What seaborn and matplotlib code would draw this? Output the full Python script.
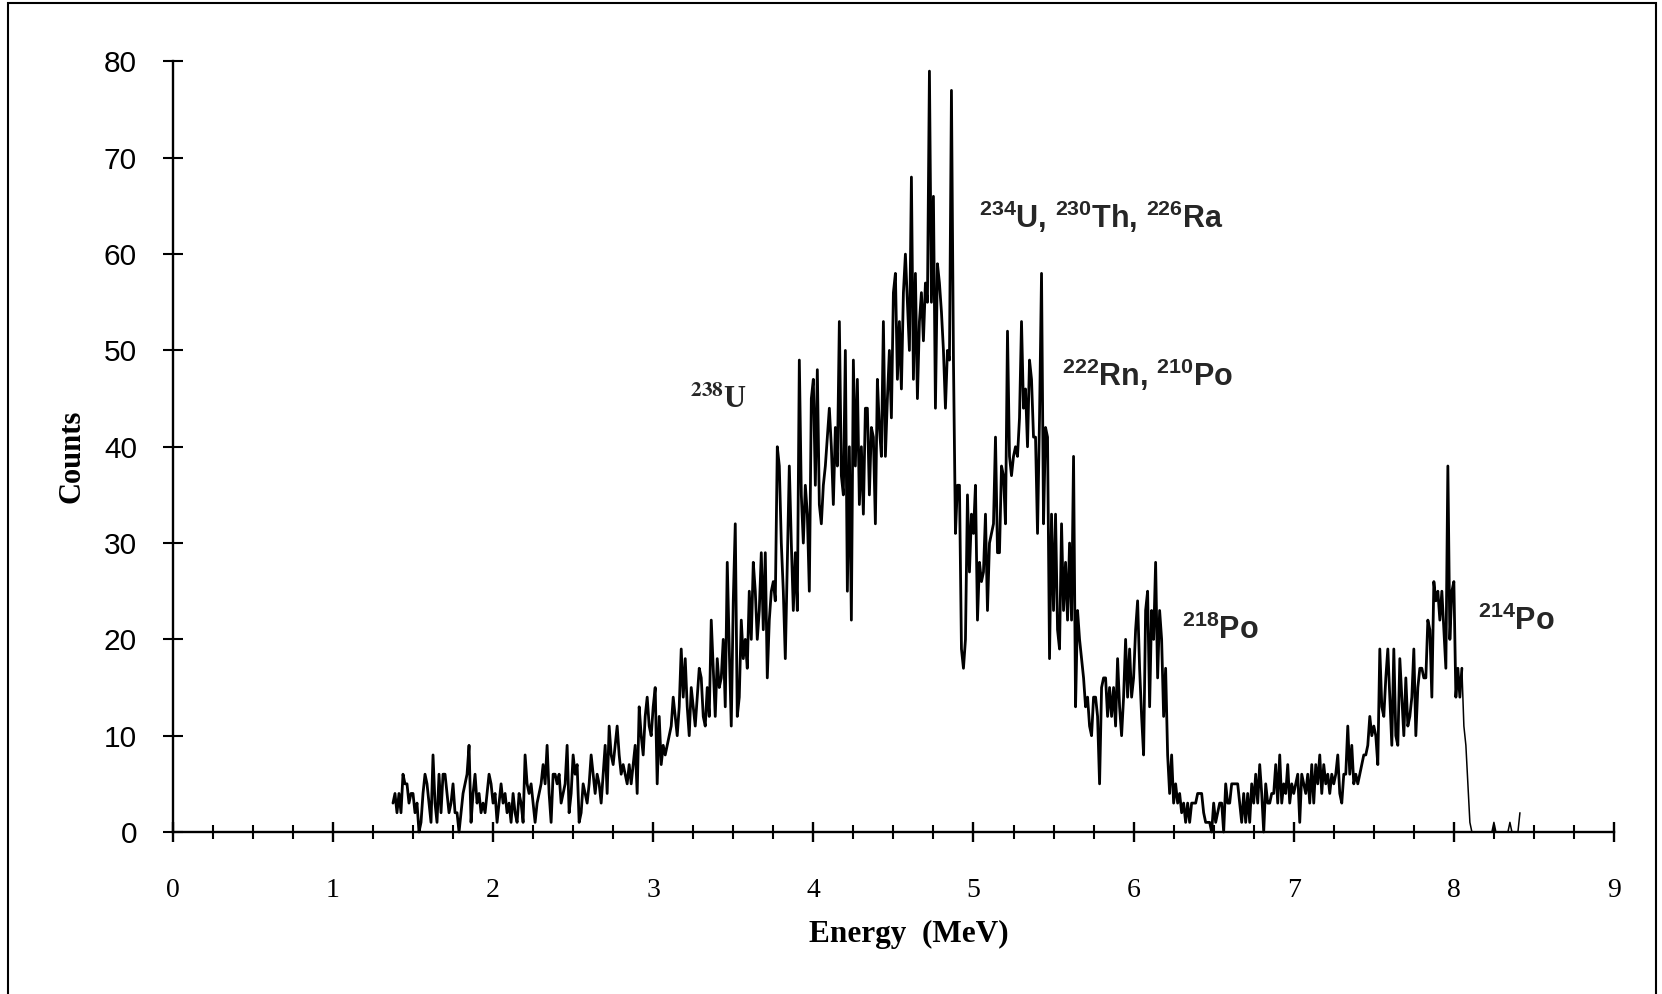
import numpy as np
import pandas as pd
import matplotlib
matplotlib.use("Agg")
import matplotlib.pyplot as plt
import seaborn as sns

# ---------------- data (counts per 0.0125 MeV channel) ----------------
energy_start = 1.375      # MeV, first channel
channel_width = 0.0125    # MeV

seg_1375 = [3, 4, 2, 4, 2, 6, 5, 5, 3, 4, 4, 2, 3, 0, 1, 4, 6, 5, 3, 1]
seg_1625 = [8, 3, 1, 6, 2, 6, 6, 4, 2, 3, 5, 2, 2, 0, 2, 4, 5, 6, 9, 1]
seg_1875 = [4, 6, 3, 4, 2, 3, 2, 4, 6, 5, 3, 4, 1, 3, 5, 3, 4, 2, 3, 1]
seg_2125 = [4, 2, 1, 4, 3, 1, 8, 5, 4, 5, 3, 1, 3, 4, 5, 7, 5, 9, 4, 1]
seg_2375 = [6, 6, 5, 6, 3, 4, 5, 9, 2, 4, 8, 6, 7, 1, 2, 5, 4, 3, 5, 8]
seg_2625 = [6, 4, 6, 5, 3, 6, 9, 4, 11, 8, 7, 9, 11, 8, 6, 7, 6, 5, 7, 5]
seg_2875 = [7, 9, 4, 13, 10, 8, 12, 14, 11, 10, 13, 15, 5, 12, 7, 9, 8, 9, 10, 11]
seg_3125 = [14, 12, 10, 13, 19, 14, 18, 13, 10, 15, 13, 11, 14, 17, 16, 12, 11, 15, 12, 22]
seg_3375 = [17, 12, 18, 15, 16, 20, 13, 28, 19, 11, 24, 32, 12, 14, 22, 18, 20, 17, 25, 20]
seg_3625 = [28, 25, 20, 23, 29, 21, 29, 16, 22, 25, 26, 24, 40, 38, 30, 25, 18, 28, 38, 30]
seg_3875 = [23, 29, 23, 49, 35, 30, 36, 33, 25, 45, 47, 36, 48, 34, 32, 36, 38, 41, 44, 40]
seg_4125 = [34, 42, 38, 53, 37, 35, 50, 25, 40, 22, 49, 38, 47, 34, 40, 33, 44, 44, 35, 42]
seg_4375 = [41, 32, 47, 42, 39, 53, 39, 45, 50, 43, 56, 58, 47, 53, 46, 56, 60, 55, 50, 68]
seg_4625 = [47, 58, 45, 53, 56, 51, 57, 55, 79, 55, 66, 44, 59, 57, 54, 50, 44, 50, 49, 77]
seg_4875 = [49, 31, 36, 36, 19, 17, 20, 35, 27, 33, 31, 36, 22, 28, 26, 27, 33, 23, 30, 31]
seg_5125 = [32, 41, 29, 29, 38, 37, 32, 52, 39, 37, 39, 40, 39, 43, 53, 44, 46, 40, 49, 47]
seg_5375 = [41, 41, 31, 43, 58, 32, 42, 41, 18, 33, 23, 33, 21, 19, 32, 23, 28, 22, 30, 22]
seg_5625 = [39, 13, 23, 20, 18, 16, 13, 14, 11, 10, 14, 14, 12, 5, 15, 16, 16, 12, 15, 12]
seg_5875 = [15, 11, 18, 13, 10, 14, 20, 14, 19, 14, 16, 21, 24, 17, 12, 8, 23, 25, 13, 23]
seg_6125 = [20, 28, 16, 23, 20, 12, 17, 8, 4, 8, 3, 5, 3, 4, 2, 3, 1, 3, 1, 3]
seg_6375 = [3, 3, 4, 4, 4, 2, 1, 1, 1, 0, 3, 1, 2, 3, 3, 0, 5, 3, 3, 5]
seg_6625 = [5, 5, 5, 3, 1, 4, 1, 4, 1, 5, 3, 6, 3, 7, 4, 0, 5, 3, 3, 4]
seg_6875 = [4, 7, 3, 8, 3, 5, 4, 7, 3, 5, 4, 5, 6, 1, 6, 5, 4, 6, 3, 7]
seg_7125 = [3, 7, 5, 8, 4, 7, 5, 6, 4, 6, 5, 6, 8, 4, 3, 6, 6, 11, 6, 9]
seg_7375 = [5, 6, 5, 6, 7, 8, 8, 9, 12, 10, 11, 10, 7, 19, 13, 12, 16, 19, 14, 9]
seg_7625 = [19, 10, 9, 18, 14, 10, 16, 11, 12, 14, 19, 10, 15, 17, 17, 16, 16, 22, 21, 14]
seg_7875 = [26, 24, 25, 22, 25, 21, 17, 38, 20, 25, 26, 14, 17, 14, 17]

# tail of the spectrum (drawn with a thinner line), starting at 8.05 MeV
tail_start = 8.05
tail_counts = [17, 11, 9, 5, 1, 0, 0, 0, 0, 0, 0, 0, 0, 0, 0, 0, 1, 0, 0, 0,
               0, 0, 0, 0, 1, 0, 0, 0, 0, 2]

main_counts = (seg_1375 + seg_1625 + seg_1875 + seg_2125 + seg_2375 + seg_2625
               + seg_2875 + seg_3125 + seg_3375 + seg_3625 + seg_3875 + seg_4125
               + seg_4375 + seg_4625 + seg_4875 + seg_5125 + seg_5375 + seg_5625
               + seg_5875 + seg_6125 + seg_6375 + seg_6625 + seg_6875 + seg_7125
               + seg_7375 + seg_7625 + seg_7875)

x_ticks = [0, 1, 2, 3, 4, 5, 6, 7, 8, 9]
y_ticks = [0, 10, 20, 30, 40, 50, 60, 70, 80]

labels = [
    (r'$^{\mathbf{238}}$U', 3.23, 44.0, 'serif'),
    (r'$^{234}$U, $^{230}$Th, $^{226}$Ra', 5.037, 62.7, 'sans'),
    (r'$^{222}$Rn, $^{210}$Po', 5.552, 46.3, 'sans'),
    (r'$^{218}$Po', 6.30, 20.0, 'sans'),
    (r'$^{214}$Po', 8.148, 21.0, 'sans'),
]

main_df = pd.DataFrame({
    'energy': energy_start + channel_width * np.arange(len(main_counts)),
    'counts': main_counts,
})
tail_df = pd.DataFrame({
    'energy': tail_start + channel_width * np.arange(len(tail_counts)),
    'counts': tail_counts,
})

# ---------------- style ----------------
sns.set_style('white')
plt.rcParams['font.family'] = ['Liberation Sans', 'DejaVu Sans']
plt.rcParams['mathtext.fontset'] = 'custom'
plt.rcParams['mathtext.rm'] = 'Liberation Sans:bold'
plt.rcParams['mathtext.bf'] = 'Liberation Sans:bold'
plt.rcParams['mathtext.it'] = 'Liberation Sans:bold'

fig = plt.figure(figsize=(16.62, 9.94), dpi=100)
ax = fig.add_axes([0.10397, 0.16298, 0.86715, 0.77515])

sns.lineplot(data=main_df, x='energy', y='counts', ax=ax, color='black',
             linewidth=2.0, estimator=None, sort=False, clip_on=False)
sns.lineplot(data=tail_df, x='energy', y='counts', ax=ax, color='black',
             linewidth=1.1, estimator=None, sort=False, clip_on=False)

ax.set_xlim(0, 9)
ax.set_ylim(0, 80)
ax.set_xticks(x_ticks)
ax.set_xticks(np.arange(0, 9.01, 0.25), minor=True)
ax.set_yticks(y_ticks)
ax.set_xticklabels([str(v) for v in x_ticks], fontfamily='Liberation Serif', fontsize=20)
ax.set_yticklabels([str(v) for v in y_ticks], fontfamily='Liberation Sans', fontsize=21.5)

for side in ['top', 'right']:
    ax.spines[side].set_visible(False)
for side in ['left', 'bottom']:
    ax.spines[side].set_linewidth(1.7)
    ax.spines[side].set_color('black')

ax.tick_params(axis='y', which='major', direction='inout', length=13.7, width=1.5,
               pad=19, colors='black', left=True)
ax.tick_params(axis='x', which='major', direction='inout', length=13.7, width=1.7,
               pad=26, colors='black', bottom=True)
ax.tick_params(axis='x', which='minor', direction='inout', length=10.5, width=1.5,
               colors='black', bottom=True)

ax.set_xlabel('Energy  (MeV)', fontfamily='Liberation Serif', fontweight='bold',
              fontsize=22.5, color='black')
ax.xaxis.label.set_verticalalignment('center')
ax.xaxis.set_label_coords(0.511, -0.1324)
ax.set_ylabel('Counts', fontfamily='Liberation Serif', fontweight='bold',
              fontsize=22, color='black')
ax.yaxis.set_label_coords(-0.0602, 0.488)

for text, ex, cy, kind in labels:
    if kind == 'serif':
        ax.text(ex, cy, text, fontfamily='Liberation Serif', fontweight='bold',
                fontsize=22, math_fontfamily='stix', ha='left', va='baseline')
    else:
        ax.text(ex, cy, text, fontfamily='Liberation Sans', fontweight='bold',
                fontsize=22, ha='left', va='baseline')

# outer frame around the whole chart
frame = plt.Rectangle((7.5 / 1662, -0.02), (1655.5 - 7.5) / 1662, 0.02 + 1 - 3 / 994,
                      transform=fig.transFigure, fill=False, edgecolor='black',
                      linewidth=1.5, clip_on=False)
fig.patches.append(frame)

fig.savefig('out.png', dpi=100)
